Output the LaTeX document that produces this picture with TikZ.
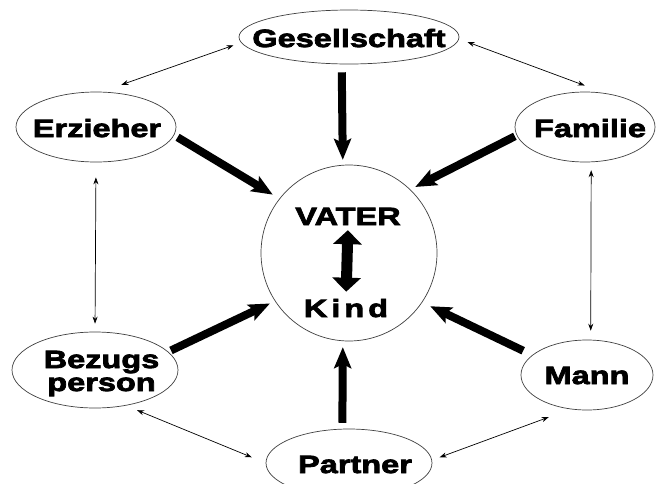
\documentclass[tikz,border=0pt]{standalone}
\usepackage{fontspec}
\newfontfamily\heavy[FakeStretch=1.3,FakeBold=3]{Liberation Sans Bold}
\usetikzlibrary{arrows.meta,shapes.geometric}
\newcommand\lbltext[3]{\raisebox{#2}[0pt][0pt]{\makebox[0pt][c]{\hspace*{#1}#3}}}
\begin{document}
\begin{tikzpicture}[x=1pt,y=-1pt,
  lbl/.style={ellipse, draw=black!75, line width=0.7pt, inner sep=0pt,
    font=\heavy\fontsize{25}{23}\selectfont},
  ctext/.style={inner sep=0pt, anchor=base, font=\heavy\fontsize{25}{23}\selectfont},
  thinarrow/.style={line width=0.7pt,
    {Stealth[length=7pt,width=5pt]}-{Stealth[length=7pt,width=5pt]}},
  bigarrow/.style={line width=8pt, -{Stealth[length=21pt,width=17pt,inset=4pt]}},
  innerarrow/.style={line width=11pt,
    {Triangle[length=14pt,width=28pt]}-{Triangle[length=14pt,width=28pt]}},
]
\useasboundingbox (0,0) rectangle (657,483);
\fill[white] (0,0) rectangle (657,483);
% nodes
\node[lbl, minimum width=220pt, minimum height=54pt] (ges) at (349,37) {\lbltext{0pt}{-10pt}{Gesellschaft}};
\node[lbl, minimum width=160pt, minimum height=70pt] (erz) at (96,127) {\lbltext{2pt}{-10pt}{Erzieher}};
\node[lbl, minimum width=140pt, minimum height=70pt] (fam) at (585,127) {\lbltext{10pt}{-10pt}{Familie}};
\node[lbl, minimum width=166pt, minimum height=76pt] (bez) at (95,370) {\lbltext{13pt}{2pt}{\begin{tabular}[t]{@{}c@{}}Bezugs\\person\end{tabular}}};
\node[lbl, minimum width=132pt, minimum height=70pt] (mann) at (587,375) {\lbltext{0pt}{-9pt}{Mann}};
\node[lbl, minimum width=166pt, minimum height=68pt] (part) at (349,463) {\lbltext{12pt}{-10pt}{Partner}};
\node[circle, draw=black!75, line width=0.7pt, minimum size=176pt, inner sep=0pt] (vater) at (349,253) {};
\node[ctext] (vt) at (348,225) {VATER};
\node[ctext] (kt) at (346,317) {K\kern4pt i\kern4pt n\kern4pt d};
% inner double arrow
\draw[innerarrow, shorten <=5pt, shorten >=7pt] (vt.south) -- (kt.north);
% thick arrows
\draw[bigarrow, shorten <=8pt, shorten >=5pt] (ges.-105) -- (vater.94.5);
\draw[bigarrow, shorten <=4pt, shorten >=7.7pt] (erz.-6) -- (vater.142);
\draw[bigarrow, shorten <=2pt, shorten >=5.5pt] (fam.187) -- (vater.46);
\draw[bigarrow, shorten <=3pt, shorten >=5.5pt] (bez.14) -- (vater.213);
\draw[bigarrow, shorten <=10pt, shorten >=8.8pt] (mann.160) -- (vater.-34);
\draw[bigarrow, shorten <=6pt, shorten >=6pt] (part.101.6) -- (vater.-94.3);
% thin arrows
\draw[thinarrow, shorten <=8pt, shorten >=21pt] (ges.183) -- (erz.81);
\draw[thinarrow, shorten <=9pt, shorten >=22pt] (ges.-1) -- (fam.59);
\draw[thinarrow, shorten <=15pt, shorten >=8pt] (erz.south) -- (bez.north);
\draw[thinarrow, shorten <=8pt, shorten >=9pt] (fam.-80) -- (mann.84);
\draw[thinarrow, shorten <=12pt, shorten >=15pt] (bez.-49) -- (part.180);
\draw[thinarrow, shorten <=23pt, shorten >=8pt] (mann.-116) -- (part.2);
\end{tikzpicture}
\end{document}
